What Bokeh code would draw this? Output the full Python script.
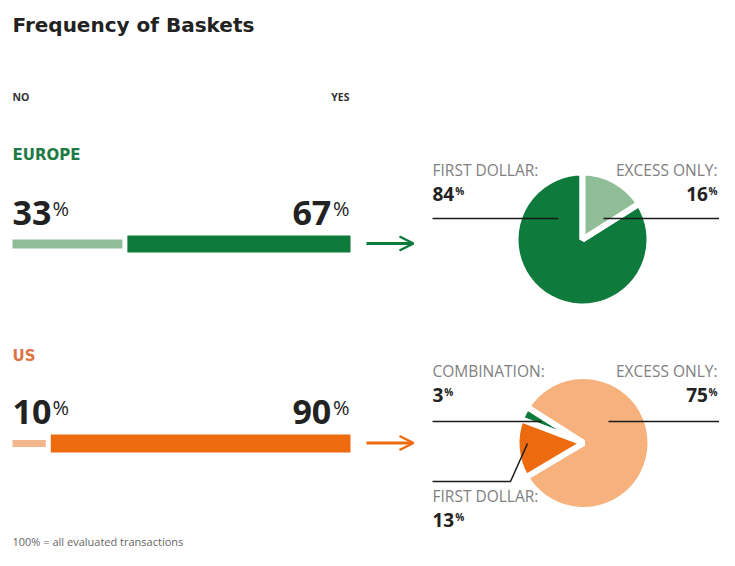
import numpy as np
from bokeh.plotting import figure
from bokeh.models import Range1d, Arrow, OpenHead, ColumnDataSource
from bokeh.core.properties import value
from bokeh.embed import file_html
from bokeh.resources import INLINE

# ---------------- data ----------------
title = "Frequency of Baskets"
side_labels = ["NO", "YES"]
regions = ["EUROPE", "US"]
no_share = [33, 10]
yes_share = [67, 90]
europe_labels = ["FIRST DOLLAR:", "EXCESS ONLY:"]
europe_values = [84, 16]
us_labels = ["EXCESS ONLY:", "COMBINATION:", "FIRST DOLLAR:"]
us_values = [75, 3, 13]
footnote = "100% = all evaluated transactions"

# ---------------- style ----------------
GREEN = "#0e7a3b"
LIGHT_GREEN = "#8fbd97"
ORANGE = "#ee6a0e"
LIGHT_ORANGE = "#f6b17d"
region_dark = [GREEN, ORANGE]
region_light = [LIGHT_GREEN, "#f4b68c"]
region_title_color = ["#1d7a45", "#dc7447"]
DARK_TEXT = "#222222"
GREY_TEXT = "#808080"
FONT = value("Open Sans")
WIDE = value("DejaVu Sans")

W, H = 719, 550
BASELINE_FIX = 0.37   # svg text sits lower than the requested baseline


def Y(iy):
    return H - iy


p = figure(width=W, height=H, x_range=Range1d(0, W), y_range=Range1d(0, H),
           output_backend="svg", toolbar_location=None, min_border=0)
p.axis.visible = False
p.grid.visible = False
p.outline_line_color = None
p.background_fill_color = "white"
p.border_fill_color = "white"


def txt(x, iy, s, size, color, bold=True, align="left", font=FONT):
    p.text(x=[x], y=[Y(iy - BASELINE_FIX * size)], text=[s], text_font=font,
           text_font_size=f"{size}px",
           text_font_style="bold" if bold else "normal", text_color=color,
           text_align=align, text_baseline="alphabetic")


def pct(x, iy, number, size, sup_size, align, color=DARK_TEXT, sup_bold=True):
    n = str(number)
    num_w = len(n) * 0.572 * size
    sup_w = 0.86 * sup_size
    iy_sup = iy - 0.714 * size + 0.714 * sup_size
    if align == "left":
        txt(x, iy, n, size, color)
        txt(x + num_w + 1, iy_sup, "%", sup_size, color, bold=sup_bold)
    else:
        txt(x, iy_sup, "%", sup_size, color, bold=sup_bold, align="right")
        txt(x - sup_w - 1, iy, n, size, color, align="right")


# title, header
txt(12, 32, title, 20, DARK_TEXT, font=WIDE)
txt(12, 100, side_labels[0], 10.5, "#333333")
txt(349, 100, side_labels[1], 10.5, "#333333", align="right")

# ---------------- bars ----------------
BAR_X0, BAR_SPAN, BAR_GAP = 12, 338, 5
scale = (BAR_SPAN - BAR_GAP) / 100.0
bar_center = [243.5, 443]
no_h = [9, 7]
yes_h = [17, 18]
region_baseline = [160, 361]
num_baseline = [225, 424]

for i in range(len(regions)):
    no_right = BAR_X0 + no_share[i] * scale
    yes_left = no_right + BAR_GAP
    yes_right = yes_left + yes_share[i] * scale
    p.hbar(y=[Y(bar_center[i])], left=[BAR_X0], right=[no_right], height=no_h[i],
           fill_color=region_light[i], line_color=None)
    p.hbar(y=[Y(bar_center[i])], left=[yes_left], right=[yes_right], height=yes_h[i],
           fill_color=region_dark[i], line_color=None)
    txt(12, region_baseline[i], regions[i], 15, region_title_color[i], font=WIDE)
    pct(12, num_baseline[i], no_share[i], 34, 20, "left", sup_bold=False)
    pct(349, num_baseline[i], yes_share[i], 34, 20, "right", sup_bold=False)
    p.add_layout(Arrow(end=OpenHead(size=14, line_color=region_dark[i], line_width=2.5),
                       x_start=366, y_start=Y(bar_center[i] - 0.5), x_end=413,
                       y_end=Y(bar_center[i] - 0.5),
                       line_color=region_dark[i], line_width=3))


# ---------------- pies ----------------
def pie(cx, cy, r, values, colors, start_deg):
    v = np.array(values, dtype=float)
    frac = v / v.sum()
    a0 = np.radians(start_deg)
    ends = a0 + 2 * np.pi * np.cumsum(frac)
    starts = np.concatenate([[a0], ends[:-1]])
    src = ColumnDataSource(dict(x=[cx] * len(v), y=[Y(cy)] * len(v),
                                s=list(starts), e=list(ends), c=list(colors)))
    p.wedge(x="x", y="y", radius=r, start_angle="s", end_angle="e", fill_color="c",
            line_color="white", line_width=6, direction="anticlock", source=src)


pie(582, 239, 67, europe_values, [GREEN, LIGHT_GREEN], 90)
pie(583, 442.5, 67, us_values, [LIGHT_ORANGE, GREEN, ORANGE], 210.7)

LEADER = "#1a1a1a"


def leader(xs, iys):
    p.line(x=xs, y=[Y(v) for v in iys], line_color=LEADER, line_width=1.5)


leader([432, 558], [218, 218])
leader([603, 719], [218, 218])
leader([432, 541], [421, 421])
leader([608, 719], [421, 421])
leader([432, 510, 527], [481, 481, 443])

# pie labels
europe_anchor = [(432, "left", 175), (717, "right", 175)]
for lab, val, (x, al, base) in zip(europe_labels, europe_values, europe_anchor):
    txt(x, base, lab, 15.5, GREY_TEXT, bold=False, align=al)
    pct(x, base + 26, val, 19, 10, al)

us_anchor = [(717, "right", 376), (432, "left", 376), (432, "left", 501)]
for lab, val, (x, al, base) in zip(us_labels, us_values, us_anchor):
    txt(x, base, lab, 15.5, GREY_TEXT, bold=False, align=al)
    pct(x, base + 26, val, 19, 10, al)

txt(12, 545, footnote, 11, "#666666", bold=False)

open("out.html", "w").write(file_html(p, INLINE))
